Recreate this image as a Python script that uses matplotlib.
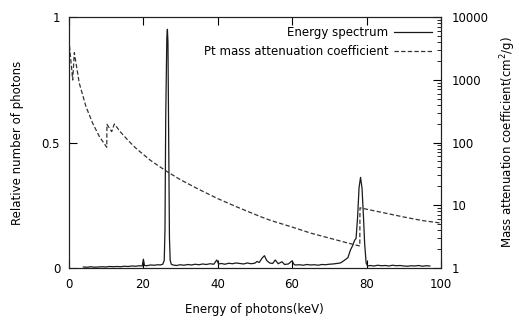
import matplotlib
matplotlib.use("Agg")
import matplotlib.pyplot as plt
from matplotlib.ticker import LogLocator, NullFormatter, FixedLocator

# Energy spectrum (keV, relative photons)
spec_energy = [4, 5, 6, 7, 8, 9, 10, 11, 12, 13, 14, 15, 16, 17, 18, 19, 19.8, 20.1, 20.4,
               21, 22, 23, 24, 24.6, 25.3, 25.7, 25.9, 26.1, 26.4, 26.55, 26.7, 26.9, 27.1,
               27.3, 27.6, 28, 29, 30, 31, 32, 33, 34, 35, 36, 37, 38, 39, 39.8, 40.3, 41,
               42, 43, 44, 45, 46, 47, 48, 49, 50, 50.6, 51.2, 52.0, 52.6, 53.2, 54, 54.8,
               55.5, 56.3, 57.3, 58, 59, 60, 60.6, 61, 62, 63, 64, 65, 66, 67, 68, 69, 70,
               71, 72, 73, 74, 75, 75.7, 76.3, 76.8, 77.2, 77.6, 78.0, 78.4, 78.8, 79.2,
               79.5, 79.9, 80.3, 81, 82, 83, 84, 85, 86, 87, 88, 89, 90, 91, 92, 93, 94,
               95, 96, 97]
spec_counts = [0.004, 0.003, 0.005, 0.003, 0.004, 0.005, 0.004, 0.006, 0.005, 0.006, 0.005,
               0.007, 0.006, 0.008, 0.007, 0.009, 0.008, 0.035, 0.010,
               0.009, 0.012, 0.011, 0.013, 0.012, 0.015, 0.030, 0.15, 0.60, 0.92, 0.951,
               0.90, 0.50, 0.12, 0.030, 0.015, 0.012, 0.010, 0.013, 0.011, 0.014, 0.012,
               0.015, 0.013, 0.016, 0.014, 0.017, 0.015, 0.032, 0.016, 0.018,
               0.015, 0.019, 0.017, 0.020, 0.018, 0.016, 0.020, 0.017, 0.019, 0.026, 0.022,
               0.040, 0.049, 0.030, 0.020, 0.018,
               0.032, 0.017, 0.025, 0.014, 0.016, 0.028, 0.013, 0.012, 0.013, 0.011, 0.014,
               0.012, 0.013, 0.011, 0.014, 0.013, 0.015,
               0.016, 0.018, 0.020, 0.030, 0.041, 0.072, 0.090, 0.110, 0.118, 0.20, 0.32,
               0.361, 0.318, 0.20,
               0.098, 0.020, 0.008, 0.010, 0.008, 0.011, 0.009, 0.010, 0.008, 0.011, 0.009,
               0.010, 0.008, 0.007, 0.009, 0.008, 0.010,
               0.007, 0.009, 0.008]

# Pt mass attenuation coefficient (keV, cm^2/g)
mu_energy = [0.1, 1.13, 1.56, 2.9, 4.7, 6.5, 8.3, 10.27, 10.32, 11.6, 12.3, 14, 16, 18, 20,
             22, 24, 26.6, 30, 35, 40, 45, 51.5, 54, 56.8, 60, 65, 70, 75, 78.2, 78.25,
             85, 90, 95, 100]
mu_values = [4400, 990, 2700, 878, 372, 202, 124, 84, 195, 149, 197, 146, 108, 82, 65,
             52, 43, 34, 25.6, 17.9, 12.8, 9.5, 6.6, 5.8, 5.15, 4.5, 3.6, 3.0, 2.5, 2.24, 9.1,
             7.5, 6.5, 5.7, 5.2]

x_ticks = [0, 20, 40, 60, 80, 100]
y_ticks = [0, 0.5, 1]
y_tick_labels = ["0", "0.5", "1"]
y2_ticks = [1, 10, 100, 1000, 10000]
y2_tick_labels = ["1", "10", "100", "1000", "10000"]

plt.rcParams['font.family'] = ['DejaVu Sans']
fs = 8.5

fig = plt.figure(figsize=(5.19, 3.2), dpi=100)
ax = fig.add_axes([68.5 / 519, 52 / 320, (441 - 68.5) / 519, (268 - 17) / 320])
ax2 = ax.twinx()

l1, = ax.plot(spec_energy, spec_counts, color='#1a1a1a', lw=0.9, label='Energy spectrum')
l2, = ax2.plot(mu_energy, mu_values, color='#333333', lw=0.9,
               dashes=(3.5, 1.8), label='Pt mass attenuation coefficient')

ax.set_xlim(0, 100)
ax.set_ylim(0, 1)
ax2.set_yscale('log')
ax2.set_ylim(1, 10000)

ax.set_xticks(x_ticks)
ax.set_xticklabels([str(v) for v in x_ticks], fontsize=fs)
ax.set_yticks(y_ticks)
ax.set_yticklabels(y_tick_labels, fontsize=fs)
ax.tick_params(axis='x', direction='in', top=True, length=6, width=0.8, pad=7.5)
ax.tick_params(axis='y', direction='in', length=6, width=0.8, pad=6)

ax2.yaxis.set_major_locator(FixedLocator(y2_ticks))
ax2.set_yticklabels(y2_tick_labels, fontsize=fs)
ax2.yaxis.set_minor_locator(LogLocator(base=10, subs=range(2, 10), numticks=20))
ax2.yaxis.set_minor_formatter(NullFormatter())
ax2.tick_params(axis='y', which='major', direction='in', length=6, width=0.8, pad=8)
ax2.tick_params(axis='y', which='minor', direction='in', length=3, width=0.6)

for a in (ax, ax2):
    for s in a.spines.values():
        s.set_linewidth(0.8)
        s.set_color('#222222')

ax.set_xlabel('Energy of photons(keV)', fontsize=fs, labelpad=8.5)
ax.set_ylabel('Relative number of photons', fontsize=fs, labelpad=13)
ax2.set_ylabel('Mass attenuation coefficient(cm$^2$/g)', fontsize=fs, labelpad=7)

leg = ax.legend(handles=[l1, l2], loc='upper right', frameon=False, fontsize=fs,
                markerfirst=False, handlelength=3.2, handletextpad=0.5,
                borderaxespad=0.35, labelspacing=0.55)
for t in leg.get_texts():
    t.set_ha('right')

fig.savefig('out.png', dpi=100)
